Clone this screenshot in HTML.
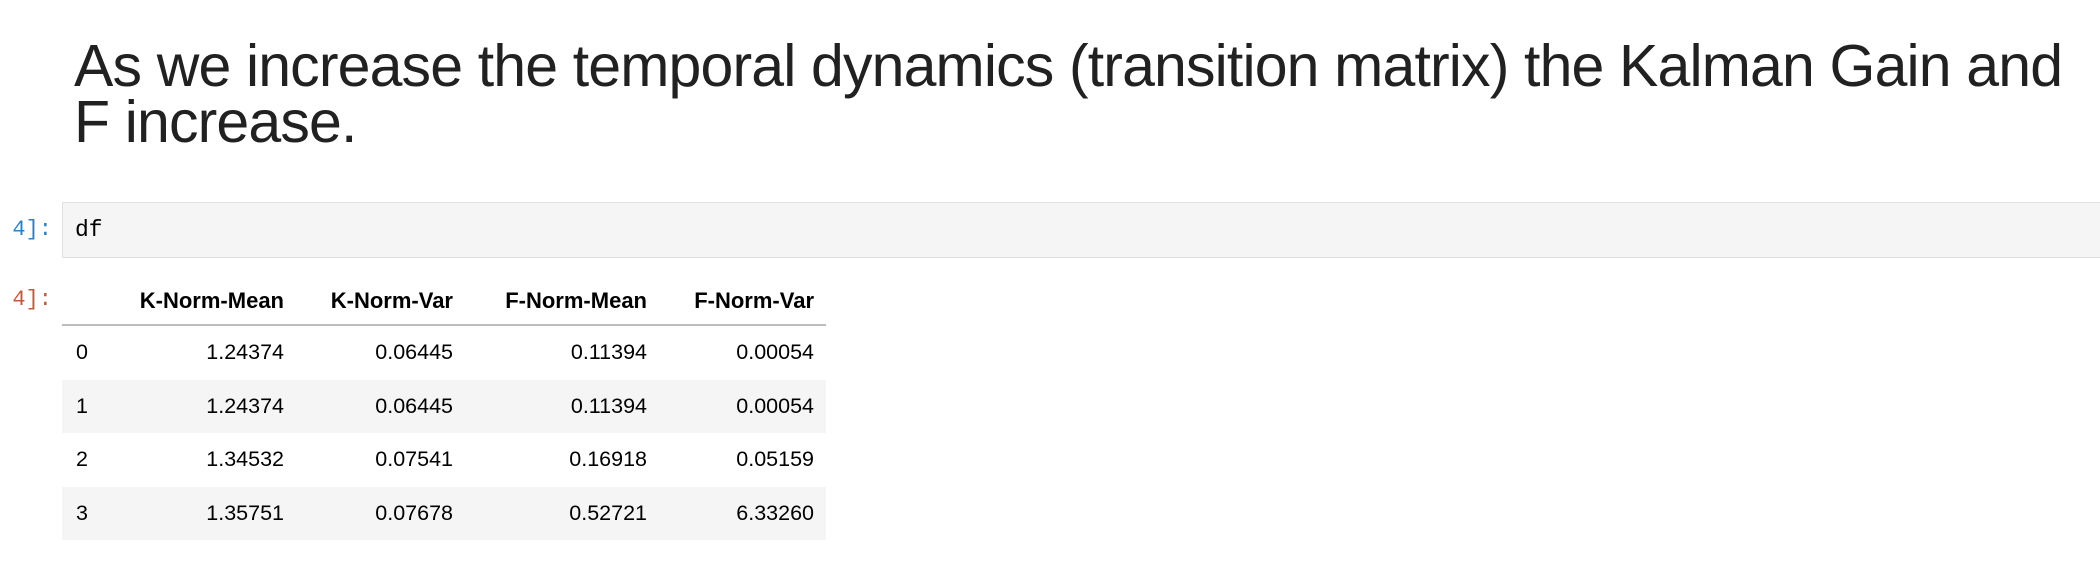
<!DOCTYPE html>
<html><head><meta charset="utf-8"><style>
body{margin:0;width:2100px;height:568px;background:#fff;overflow:hidden;font-family:"Liberation Sans",sans-serif;color:#212121;position:relative}
h1{position:absolute;left:74px;top:38px;margin:0;font-size:59px;font-weight:normal;line-height:56px;letter-spacing:-0.85px;width:2030px;color:#212121}
.prompt{position:absolute;font-family:"Liberation Mono",monospace;font-size:22px;text-align:right;width:52px;left:0}
.inbox{position:absolute;left:62px;top:202px;width:2040px;height:56px;background:#f5f5f5;border:1px solid #e0e0e0;box-sizing:border-box}
.inbox span{position:absolute;left:12px;top:14px;font-family:"Liberation Mono",monospace;font-size:23px;color:#000}
table{position:absolute;left:62px;top:278px;border-collapse:collapse;font-size:21.5px;color:#000}
th,td{text-align:right;padding:0;height:53.5px}
th{font-weight:bold;height:46px;border-bottom:2px solid #bdbdbd;vertical-align:middle;font-size:22px}
tr.odd td{background:#f5f5f5}
</style></head><body>
<h1>As we increase the temporal dynamics (transition matrix) the Kalman Gain and F increase.</h1>
<div class="prompt" style="top:217px;color:#307fc1">4]:</div>
<div class="inbox"><span>df</span></div>
<div class="prompt" style="top:287px;color:#bf5b3d">4]:</div>
<table>
<tr><th style="width:40px"></th><th style="width:182px">K-Norm-Mean</th><th style="width:169px">K-Norm-Var</th><th style="width:194px">F-Norm-Mean</th><th style="width:167px">F-Norm-Var</th><th style="width:12px"></th></tr>
<tr><td style="text-align:left;padding-left:14px">0</td><td>1.24374</td><td>0.06445</td><td>0.11394</td><td>0.00054</td><td></td></tr>
<tr class="odd"><td style="text-align:left;padding-left:14px">1</td><td>1.24374</td><td>0.06445</td><td>0.11394</td><td>0.00054</td><td></td></tr>
<tr><td style="text-align:left;padding-left:14px">2</td><td>1.34532</td><td>0.07541</td><td>0.16918</td><td>0.05159</td><td></td></tr>
<tr class="odd"><td style="text-align:left;padding-left:14px">3</td><td>1.35751</td><td>0.07678</td><td>0.52721</td><td>6.33260</td><td></td></tr>
</table>
</body></html>
